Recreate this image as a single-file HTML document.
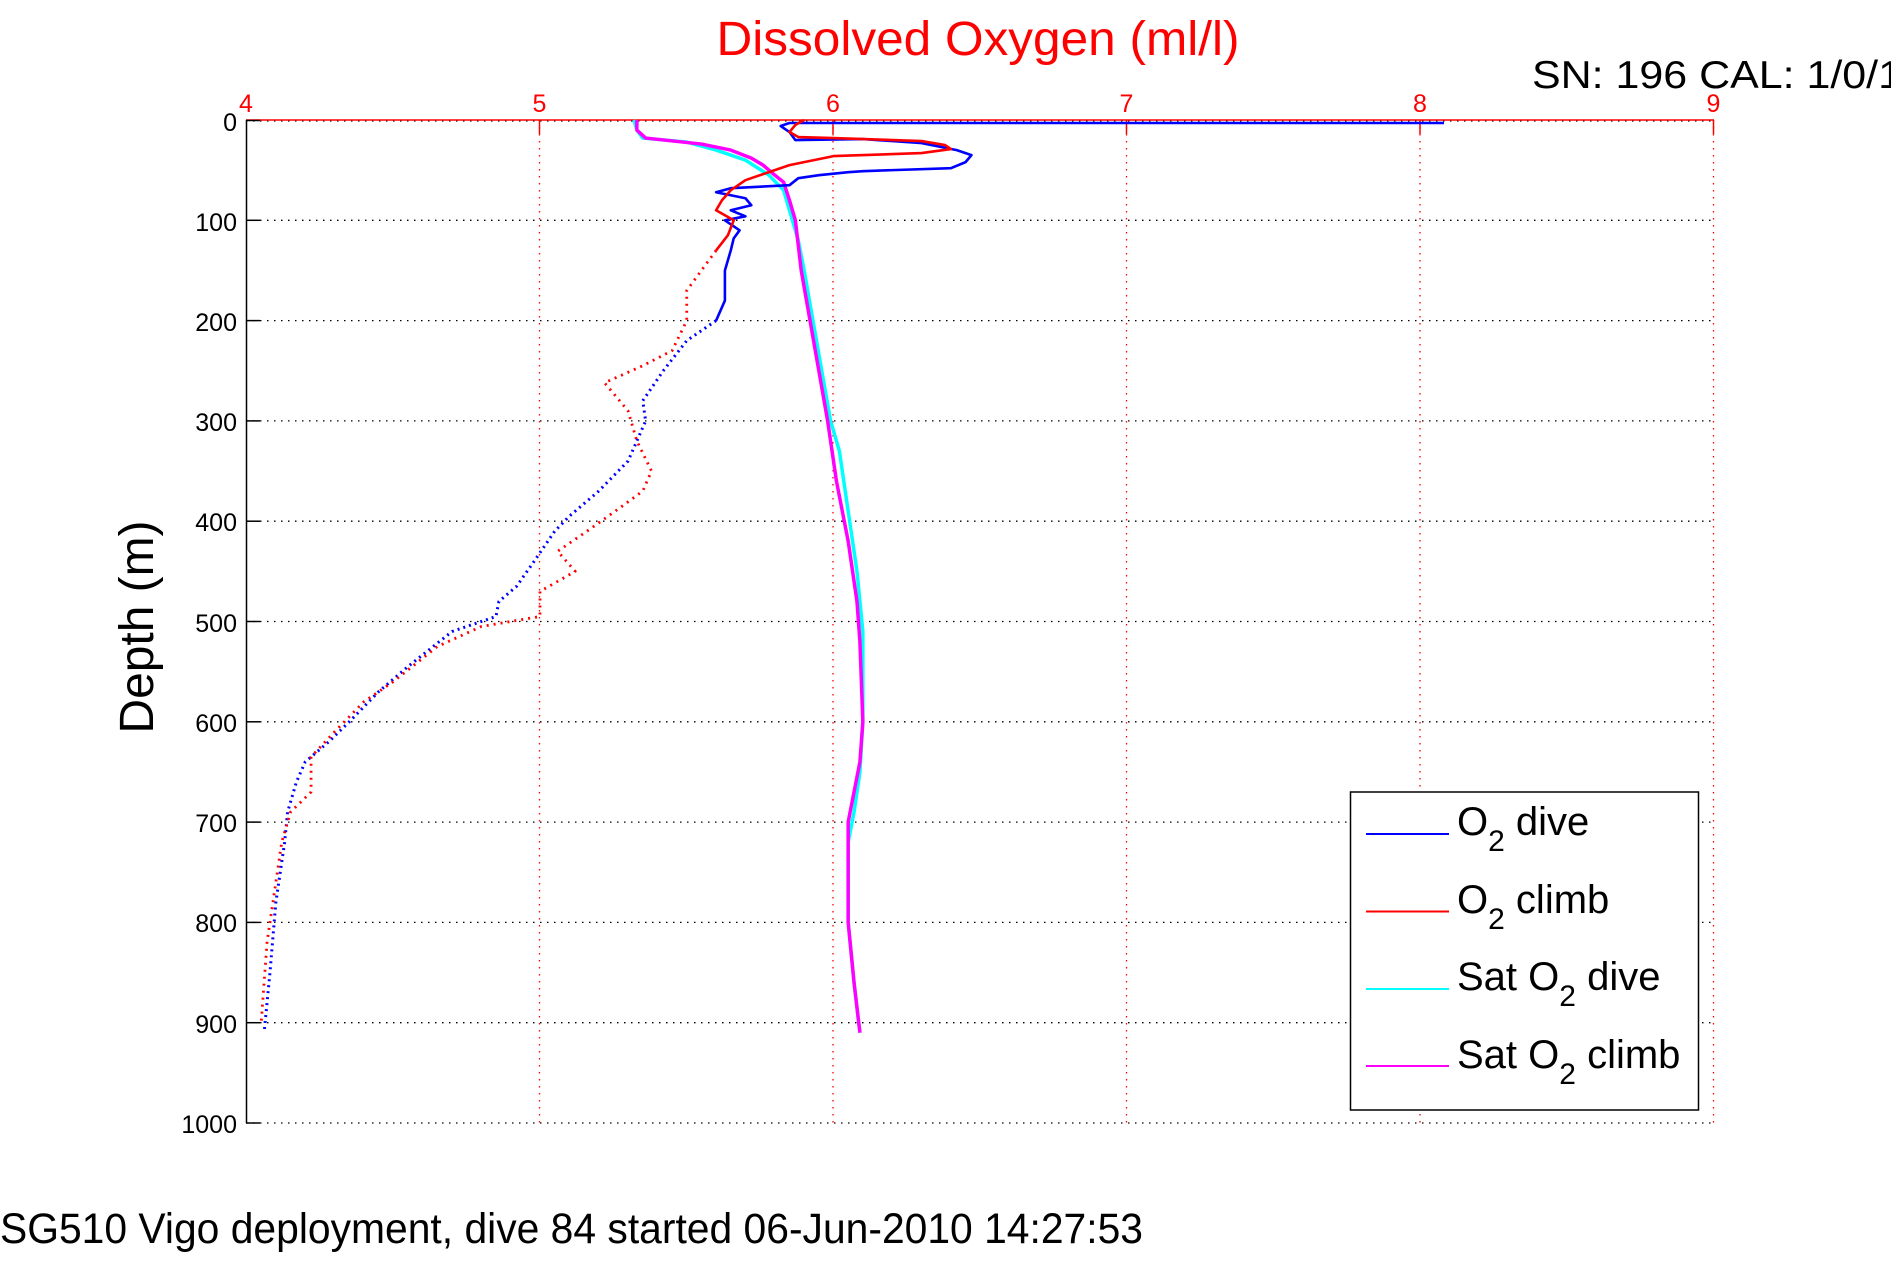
<!DOCTYPE html>
<html><head><meta charset="utf-8"><style>
html,body{margin:0;padding:0;background:#fff;}
svg{display:block;font-family:"Liberation Sans",sans-serif;}
</style></head><body>
<svg width="1891" height="1262" viewBox="0 0 1891 1262" xmlns="http://www.w3.org/2000/svg">
<rect width="1891" height="1262" fill="#fff"/>
<g stroke="#000" stroke-width="1.3" stroke-dasharray="1.5 5.5">
<line x1="246" y1="220.3" x2="1714" y2="220.3"/>
<line x1="246" y1="320.6" x2="1714" y2="320.6"/>
<line x1="246" y1="420.9" x2="1714" y2="420.9"/>
<line x1="246" y1="521.2" x2="1714" y2="521.2"/>
<line x1="246" y1="621.5" x2="1714" y2="621.5"/>
<line x1="246" y1="721.8" x2="1714" y2="721.8"/>
<line x1="246" y1="822.1" x2="1714" y2="822.1"/>
<line x1="246" y1="922.4" x2="1714" y2="922.4"/>
<line x1="246" y1="1022.7" x2="1714" y2="1022.7"/>
<line x1="246" y1="1123" x2="1714" y2="1123"/>
<line x1="246" y1="121" x2="1714" y2="121"/>
</g>
<g stroke="#f00" stroke-width="1.3" stroke-dasharray="1.5 5.5">
<line x1="539.5" y1="120" x2="539.5" y2="1123"/>
<line x1="833" y1="120" x2="833" y2="1123"/>
<line x1="1126.5" y1="120" x2="1126.5" y2="1123"/>
<line x1="1420" y1="120" x2="1420" y2="1123"/>
<line x1="1713.5" y1="120" x2="1713.5" y2="1123"/>
</g>
<line x1="246.5" y1="120" x2="246.5" y2="1123" stroke="#000" stroke-width="1.5"/>
<line x1="246" y1="120" x2="1714" y2="120" stroke="#f00" stroke-width="1.5"/>
<g stroke="#000" stroke-width="1.5">
<line x1="246" y1="120.5" x2="260" y2="120.5"/><line x1="246" y1="220.3" x2="260" y2="220.3"/><line x1="246" y1="320.6" x2="260" y2="320.6"/><line x1="246" y1="420.9" x2="260" y2="420.9"/><line x1="246" y1="521.2" x2="260" y2="521.2"/><line x1="246" y1="621.5" x2="260" y2="621.5"/><line x1="246" y1="721.8" x2="260" y2="721.8"/><line x1="246" y1="822.1" x2="260" y2="822.1"/><line x1="246" y1="922.4" x2="260" y2="922.4"/><line x1="246" y1="1022.7" x2="260" y2="1022.7"/><line x1="246" y1="1123" x2="260" y2="1123"/>
</g>
<g stroke="#f00" stroke-width="1.5">
<line x1="539.5" y1="120" x2="539.5" y2="134"/><line x1="833" y1="120" x2="833" y2="134"/><line x1="1126.5" y1="120" x2="1126.5" y2="134"/><line x1="1420" y1="120" x2="1420" y2="134"/><line x1="1713.5" y1="120" x2="1713.5" y2="134"/>
</g>
<g font-size="25" fill="#000" text-anchor="end">
<text x="237" y="131">0</text><text x="237" y="231">100</text><text x="237" y="331">200</text><text x="237" y="431">300</text><text x="237" y="531">400</text><text x="237" y="632">500</text><text x="237" y="732">600</text><text x="237" y="832">700</text><text x="237" y="932">800</text><text x="237" y="1033">900</text><text x="237" y="1133">1000</text>
</g>
<g font-size="25" fill="#f00" text-anchor="middle">
<text x="246" y="112">4</text><text x="539.5" y="112">5</text><text x="833" y="112">6</text><text x="1126.5" y="112">7</text><text x="1420" y="112">8</text><text x="1713.5" y="112">9</text>
</g>
<text x="978" y="55" font-size="48" fill="#f00" text-anchor="middle" textLength="523" lengthAdjust="spacingAndGlyphs">Dissolved Oxygen (ml/l)</text>
<text x="1532" y="88" font-size="39" fill="#000" textLength="370" lengthAdjust="spacingAndGlyphs">SN: 196  CAL: 1/0/1</text>
<text transform="translate(153,627) rotate(-90)" font-size="48" text-anchor="middle" textLength="213" lengthAdjust="spacingAndGlyphs">Depth (m)</text>
<text x="0" y="1243" font-size="43" textLength="1143" lengthAdjust="spacingAndGlyphs">SG510 Vigo deployment, dive 84 started 06-Jun-2010 14:27:53</text>
<g transform="translate(246.5 120) scale(293.5 1.003)" fill="none" stroke-linejoin="round">
<polyline vector-effect="non-scaling-stroke" stroke="#0ff" stroke-width="3.5" points="1.32,0 1.33,10 1.35,18 1.5,22 1.6,30 1.7,40 1.78,55 1.83,70 1.85,90 1.88,120 1.9,150 1.93,200 1.96,250 1.99,300 2.02,330 2.05,390 2.08,450 2.1,510 2.1,600 2.09,650 2.07,690 2.05,720 2.05,800 2.07,860 2.09,910"/>
<polyline vector-effect="non-scaling-stroke" stroke="#f0f" stroke-width="3.5" points="1.33,0 1.33,10 1.36,18 1.55,24 1.65,30 1.72,38 1.76,45 1.8,55 1.83,62 1.85,80 1.87,100 1.89,150 1.92,200 1.95,250 1.98,300 2.01,360 2.05,420 2.08,480 2.09,520 2.1,600 2.09,640 2.07,670 2.05,700 2.05,800 2.07,860 2.09,910"/>
<polyline vector-effect="non-scaling-stroke" stroke="#00f" stroke-width="2.6" points="4.08,3 1.85,3 1.82,6 1.85,12 1.87,20 2.1,19 2.3,23 2.42,30 2.47,35 2.45,42 2.4,48 2.1,51 2.05,52 1.95,55 1.88,58 1.85,65 1.65,68 1.6,72 1.7,78 1.72,85 1.65,90 1.7,96 1.63,100 1.68,110 1.66,118 1.65,130 1.63,150 1.63,180 1.6,200"/>
<polyline vector-effect="non-scaling-stroke" stroke="#00f" stroke-width="3" stroke-dasharray="2 4" points="1.6,200 1.5,220 1.42,250 1.35,280 1.36,300 1.3,340 1.2,370 1.1,395 1.05,410 0.98,440 0.92,465 0.86,480 0.85,495 0.7,510 0.55,545 0.45,570 0.35,600 0.28,620 0.2,640 0.17,660 0.14,690 0.13,720 0.1,780 0.08,850 0.07,880 0.06,910"/>
<polyline vector-effect="non-scaling-stroke" stroke="#f00" stroke-width="2.6" points="1.9,0 1.87,5 1.85,12 1.88,17 2.0,18 2.3,21 2.38,25 2.4,29 2.3,33 2.0,36 1.85,45 1.78,52 1.7,60 1.65,70 1.62,80 1.6,90 1.66,100 1.64,115 1.6,130"/>
<polyline vector-effect="non-scaling-stroke" stroke="#f00" stroke-width="2.8" stroke-dasharray="2 5" points="1.6,130 1.55,150 1.5,170 1.5,200 1.45,230 1.35,245 1.22,262 1.3,290 1.33,320 1.38,350 1.35,370 1.28,385 1.16,410 1.06,430 1.12,450 1.0,470 1.0,495 0.8,505 0.65,525 0.5,560 0.4,580 0.3,610 0.22,635 0.22,670 0.15,690 0.12,720 0.1,760 0.07,820 0.05,900"/>
</g>
<rect x="1350.5" y="792" width="348" height="318" fill="#fff" stroke="#000" stroke-width="1.5"/>
<g stroke-width="2"><line x1="1366" y1="834" x2="1449" y2="834" stroke="#00f"/><line x1="1366" y1="911.5" x2="1449" y2="911.5" stroke="#f00"/><line x1="1366" y1="989" x2="1449" y2="989" stroke="#0ff"/><line x1="1366" y1="1066" x2="1449" y2="1066" stroke="#f0f"/></g>
<g font-size="40" fill="#000">
<text x="1457" y="835">O<tspan font-size="30" dy="16">2</tspan><tspan dy="-16"> dive</tspan></text>
<text x="1457" y="913">O<tspan font-size="30" dy="16">2</tspan><tspan dy="-16"> climb</tspan></text>
<text x="1457" y="990">Sat O<tspan font-size="30" dy="16">2</tspan><tspan dy="-16"> dive</tspan></text>
<text x="1457" y="1068">Sat O<tspan font-size="30" dy="16">2</tspan><tspan dy="-16"> climb</tspan></text>
</g>
</svg>
</body></html>
